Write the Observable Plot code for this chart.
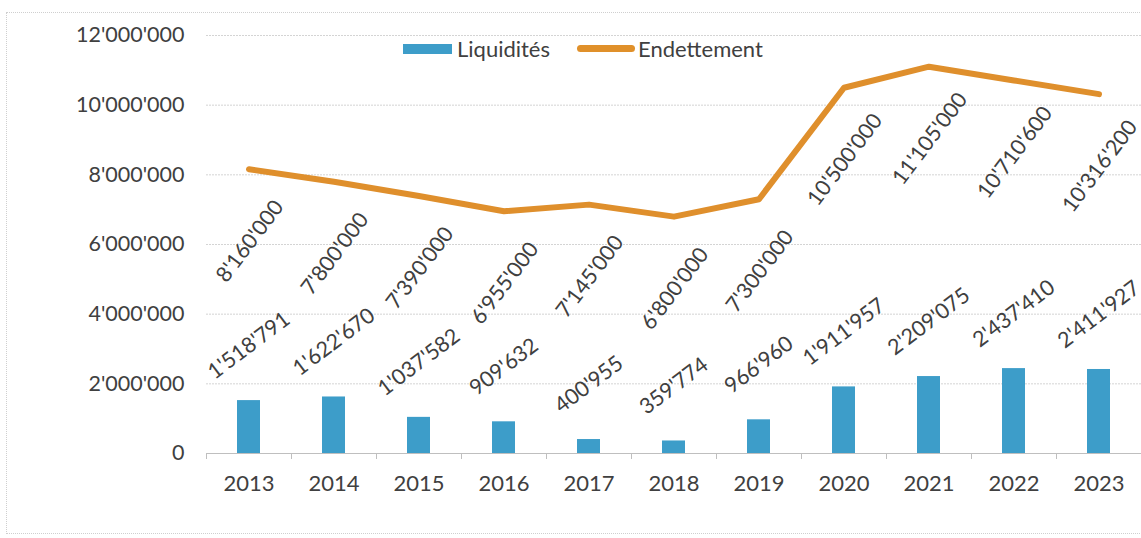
<!DOCTYPE html>
<html>
<head>
<meta charset="utf-8">
<script src="https://cdn.jsdelivr.net/npm/d3@7"></script>
<script src="https://cdn.jsdelivr.net/npm/@observablehq/plot@0.6"></script>
<style>
  html, body { margin: 0; padding: 0; background: #fff; }
  #wrap { position: relative; width: 1141px; height: 538px; overflow: hidden; font-family: Lato, "Open Sans", sans-serif; }
  #frame { position: absolute; left: 6px; top: 12px; width: 1140px; height: 522px; border: 1px dotted #cfcfcf; box-sizing: border-box; pointer-events: none; }
  #legend { position: absolute; top: 35px; left: 403px; display: flex; align-items: center; font-size: 22px; color: #404040; }
  .sw-bar { width: 49px; height: 10px; background: #3d9dc9; margin-right: 5px; }
  .sw-line { width: 58px; height: 7px; border-radius: 4px; background: #e0902a; margin-left: 27px; margin-right: 3px; }
  #chart svg { display: block; }
</style>
</head>
<body>
<div id="wrap">
  <div id="chart"></div>
  <div id="frame"></div>
  <div id="legend"><div class="sw-bar"></div><span>Liquidités</span><div class="sw-line"></div><span>Endettement</span></div>
</div>
<script>
const years = ["2013","2014","2015","2016","2017","2018","2019","2020","2021","2022","2023"];
const liquidites = [1518791, 1622670, 1037582, 909632, 400955, 359774, 966960, 1911957, 2209075, 2437410, 2411927];
const endettement = [8160000, 7800000, 7390000, 6955000, 7145000, 6800000, 7300000, 10500000, 11105000, 10710600, 10316200];
const yTicks = [0, 2000000, 4000000, 6000000, 8000000, 10000000, 12000000];

const fmt = d3.formatLocale({decimal: ".", thousands: "'", grouping: [3], currency: ["", ""]}).format(",d");

const bars = years.map((y, i) => ({year: y, value: liquidites[i]}));
const debt = years.map((y, i) => ({year: y, value: endettement[i]}));

const textColor = "#404040";
const W = 1141, ML = 206, MR = 0;
const halfStep = (W - ML - MR) / years.length / 2;

const chart = Plot.plot({
  width: W,
  height: 538,
  marginLeft: ML,
  marginRight: MR,
  marginTop: 35,
  marginBottom: 85,
  style: {fontFamily: "Lato, 'Open Sans', sans-serif", fontSize: "22px", color: textColor, background: "transparent"},
  x: {type: "band", domain: years, paddingInner: 0.73, paddingOuter: 0.365, label: null},
  y: {domain: [0, 12000000], label: null},
  marks: [
    Plot.ruleY(yTicks, {stroke: "#d4d4d4", strokeWidth: 1, strokeDasharray: "2,1"}),
    Plot.axisY(yTicks, {tickFormat: fmt, tickSize: 0, tickPadding: 22, fontSize: 21.5, fill: textColor, label: null}),
    Plot.axisX({tickSize: 0, tickPadding: 22, fontSize: 22, fill: textColor, label: null}),
    Plot.axisX({tickSize: 6, tickFormat: () => "", dx: -halfStep, stroke: "#bfbfbf", label: null}),
    Plot.ruleY([0], {stroke: "#bfbfbf", strokeWidth: 1}),
    Plot.barY(bars, {x: "year", y: "value", fill: "#3d9dc9"}),
    Plot.line(debt, {x: "year", y: "value", stroke: "#df8f2c", strokeWidth: 6, strokeLinecap: "round", strokeLinejoin: "round"}),
    Plot.text(bars, {x: "year", y: "value", text: d => fmt(d.value), rotate: -37, dy: -55, textAnchor: "middle", fontSize: 21.5, fill: textColor}),
    Plot.text(debt, {x: "year", y: "value", text: d => fmt(d.value), rotate: -53, dy: 72, dx: 1, textAnchor: "middle", fontSize: 21.5, fill: textColor})
  ]
});
document.getElementById("chart").appendChild(chart);
</script>
</body>
</html>
